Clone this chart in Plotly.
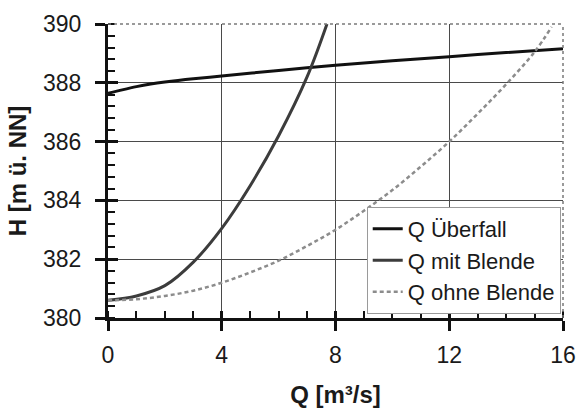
import plotly.graph_objects as go

# Data
q_ueberfall = [0, 0.5, 1, 1.5, 2, 3, 4, 6, 8, 10, 12, 14, 16]
h_ueberfall = [387.64, 387.76, 387.87, 387.96, 388.03, 388.14, 388.23, 388.42, 388.6, 388.75, 388.89, 389.03, 389.16]

q_mit = [0, 1, 2, 3, 4, 5, 6, 7, 7.7]
h_mit = [380.6, 380.75, 381.1, 381.9, 383.05, 384.5, 386.2, 388.2, 390.0]

q_ohne = [0, 1, 2, 3, 4, 5, 6, 7, 8, 9, 10, 11, 12, 13, 14, 15, 15.6]
h_ohne = [380.6, 380.64, 380.75, 380.93, 381.2, 381.55, 381.95, 382.45, 383.0, 383.65, 384.35, 385.15, 386.0, 386.95, 387.95, 389.05, 389.9]

x_ticks = [0, 4, 8, 12, 16]
y_ticks = [380, 382, 384, 386, 388, 390]

FONT = "Liberation Sans, Arial, sans-serif"
TXT = "#1a1a1a"

fig = go.Figure()
fig.add_trace(go.Scatter(x=q_ueberfall, y=h_ueberfall, mode="lines", name="Q Überfall",
                         line=dict(color="#111111", width=3, shape="spline", smoothing=0.8)))
fig.add_trace(go.Scatter(x=q_mit, y=h_mit, mode="lines", name="Q mit Blende",
                         line=dict(color="#3c3c3c", width=3, shape="spline")))
fig.add_trace(go.Scatter(x=q_ohne, y=h_ohne, mode="lines", name="Q ohne Blende",
                         line=dict(color="#8c8c8c", width=2.5, dash="4px,3px", shape="spline")))
# empty trace to host the overlay axes (inside half of major ticks)
fig.add_trace(go.Scatter(x=[None], y=[None], xaxis="x2", yaxis="y2", showlegend=False, hoverinfo="skip"))

fig.update_layout(
    width=579, height=408,
    margin=dict(l=107.5, r=16, t=24, b=90, autoexpand=False),
    paper_bgcolor="white", plot_bgcolor="white",
    font=dict(family=FONT, size=23, color=TXT),
    showlegend=True,
    legend=dict(x=0.995, xanchor="right", y=0.378, yanchor="top",
                bgcolor="white", bordercolor="#9a9a9a", borderwidth=1,
                font=dict(size=22, family=FONT, color=TXT),
                tracegroupgap=0, itemwidth=30),
    xaxis=dict(range=[0, 16], tickvals=x_ticks, ticktext=[str(v) for v in x_ticks],
               automargin=False,
               showline=True, linecolor="#111", linewidth=3,
               ticks="outside", ticklen=10, tickwidth=3, tickcolor="#111",
               ticklabelstandoff=4,
               minor=dict(dtick=1, ticks="inside", ticklen=7, tickwidth=2, tickcolor="#111", showgrid=False),
               showgrid=True, gridcolor="#4a4a4a", gridwidth=1, zeroline=False,
               title=dict(text="Q [m³/s]", font=dict(size=24, family=FONT, color=TXT, weight="bold"), standoff=27),
               fixedrange=True),
    yaxis=dict(range=[380, 390], tickvals=y_ticks, ticktext=[str(v) for v in y_ticks],
               automargin=False,
               showline=True, linecolor="#111", linewidth=3,
               ticks="outside", ticklen=10, tickwidth=3, tickcolor="#111",
               ticklabelstandoff=9,
               minor=dict(dtick=0.4, ticks="inside", ticklen=7, tickwidth=2, tickcolor="#111", showgrid=False),
               showgrid=True, gridcolor="#4a4a4a", gridwidth=1, zeroline=False,
               title=dict(text="H [m ü. NN]", font=dict(size=24, family=FONT, color=TXT, weight="bold"), standoff=10),
               fixedrange=True),
    xaxis2=dict(overlaying="x", anchor="y", range=[0, 16], tickvals=x_ticks, showticklabels=False,
                ticks="inside", ticklen=7, tickwidth=3, tickcolor="#111", automargin=False,
                showgrid=False, showline=False, zeroline=False, fixedrange=True),
    yaxis2=dict(overlaying="y", anchor="x", range=[380, 390], tickvals=y_ticks, showticklabels=False,
                ticks="inside", ticklen=10, tickwidth=3, tickcolor="#111", automargin=False,
                showgrid=False, showline=False, zeroline=False, fixedrange=True),
    shapes=[
        dict(type="line", xref="paper", yref="paper", x0=0, x1=1, y0=1, y1=1,
             line=dict(color="#7a7a7a", width=1.5, dash="dot"), layer="above"),
        dict(type="line", xref="paper", yref="paper", x0=1, x1=1, y0=0, y1=1,
             line=dict(color="#7a7a7a", width=1.5, dash="dot"), layer="above"),
    ],
)

fig.write_html("out.html", config={"displayModeBar": False},
               post_script="document.body.style.margin='0';document.body.style.overflow='hidden';")
